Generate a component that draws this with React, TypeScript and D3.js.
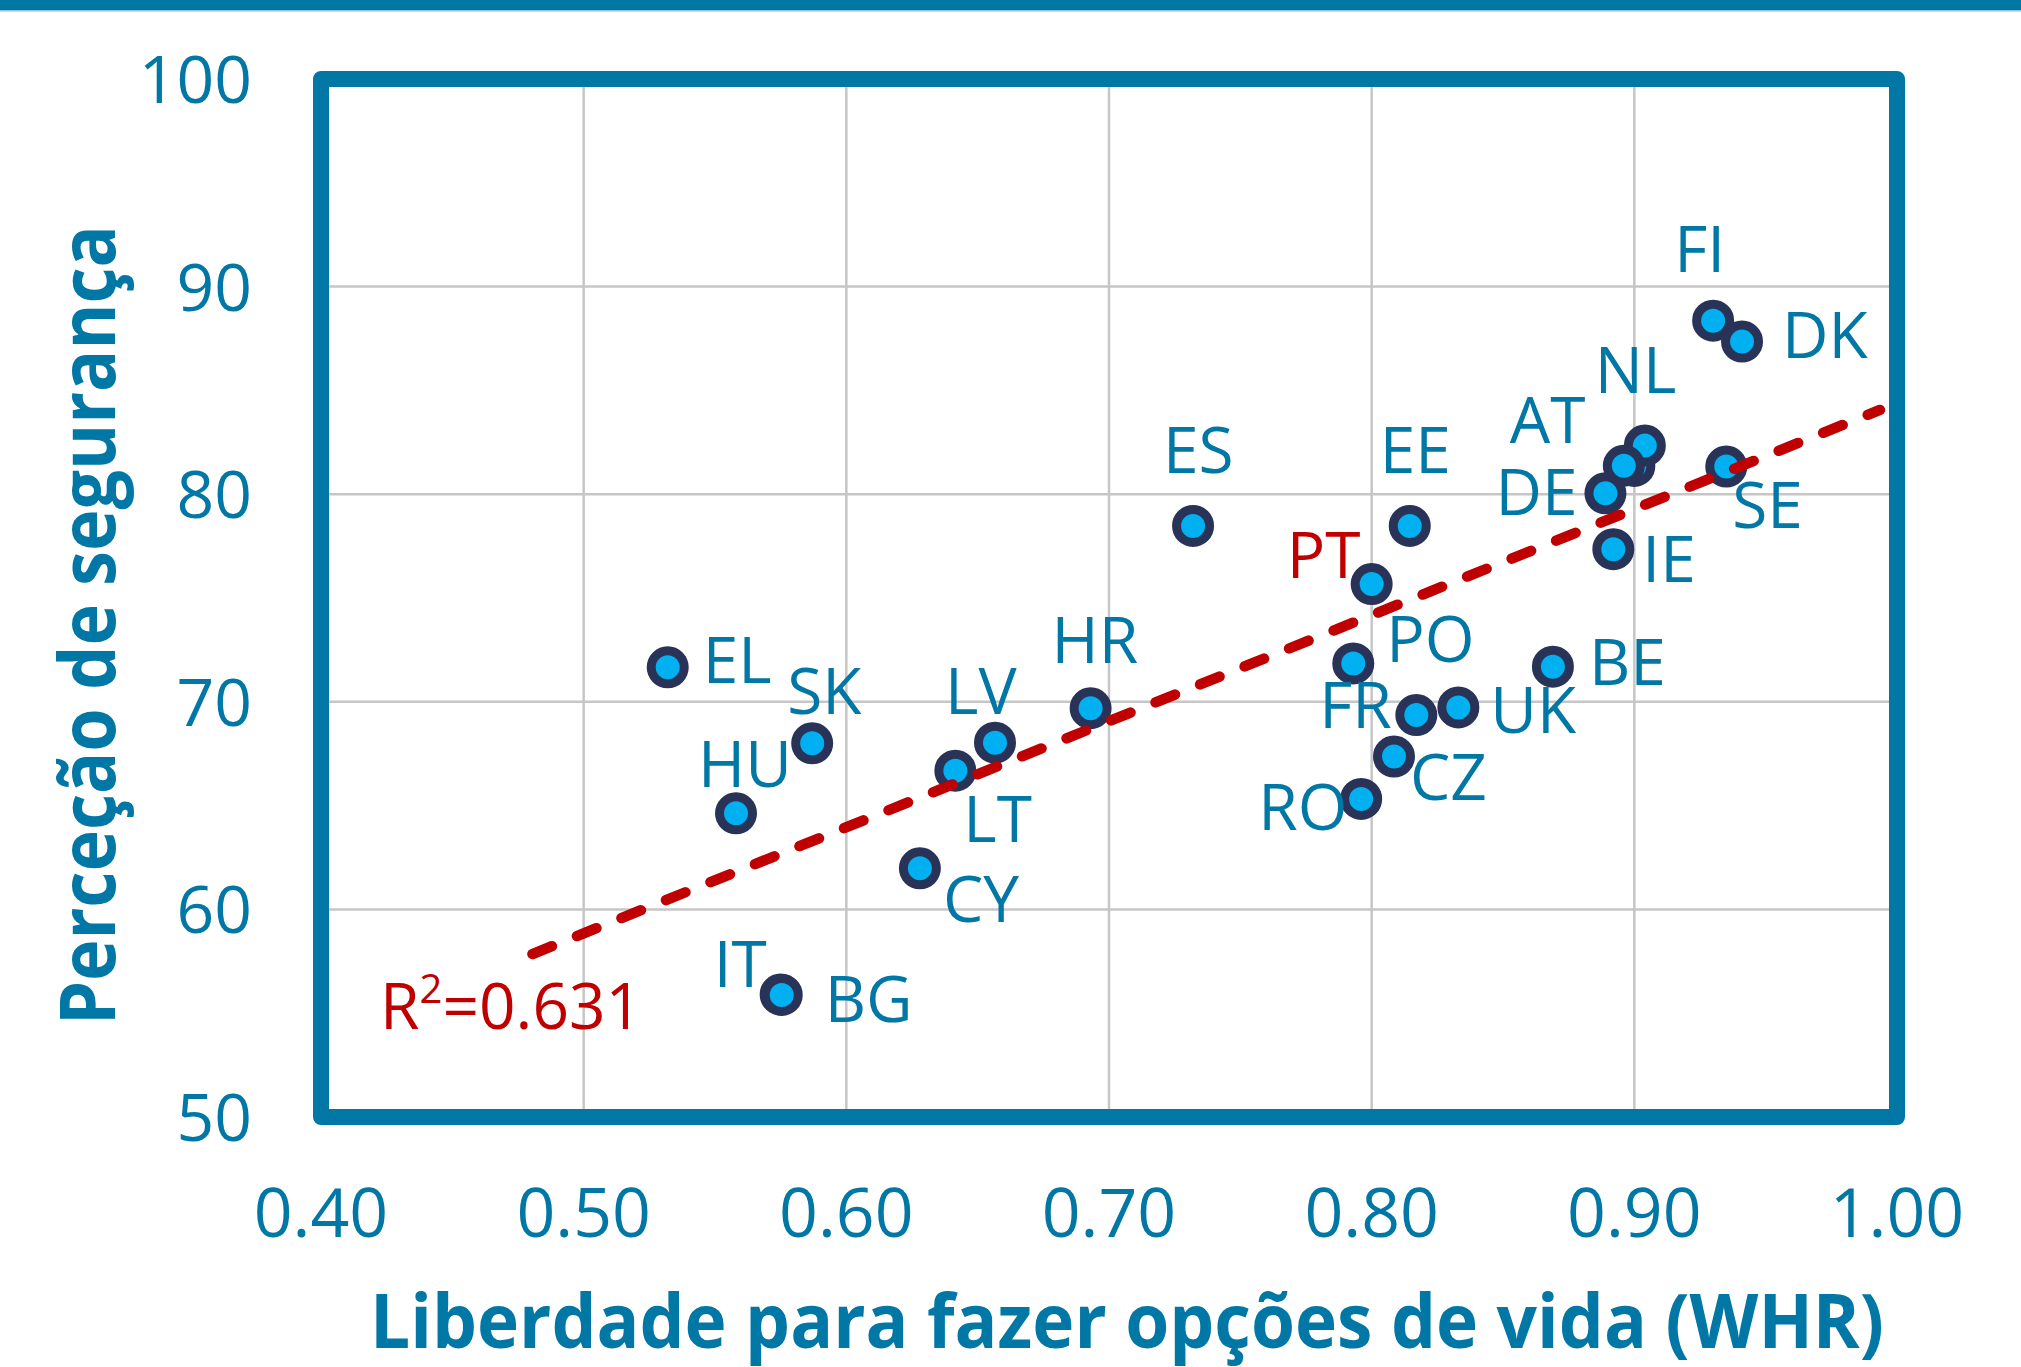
import * as d3 from "d3";

// country codes and values
const codes = ["LU", "FI", "DK", "NL", "AT", "DE", "SE", "IE", "ES", "EE", "PT", "PO", "FR", "UK", "BE", "CZ", "RO", "HR", "EL", "SK", "HU", "LV", "LT", "CY", "IT", "BG"];
const freedom = [0.900, 0.930, 0.941, 0.904, 0.896, 0.889, 0.935, 0.892, 0.732, 0.8145, 0.800, 0.793, 0.817, 0.833, 0.869, 0.8085, 0.796, 0.693, 0.532, 0.587, 0.558, 0.6566, 0.6415, 0.628, 0.5750, 0.5754];
const safety = [81.36, 88.36, 87.35, 82.34, 81.37, 80.04, 81.33, 77.35, 78.47, 78.47, 75.67, 71.85, 69.36, 69.73, 71.69, 67.36, 65.32, 69.69, 71.66, 68.0, 64.63, 68.03, 66.68, 61.98, 55.9, 55.88];

const xTicks = [0.4, 0.5, 0.6, 0.7, 0.8, 0.9, 1.0];
const yTicks = [50, 60, 70, 80, 90, 100];

const trendX = [0.4805, 0.9935];
const trendY = [57.85, 84.06];
const r2Label = "0.631";

// label placement relative to the marker (pixels)
const labelOffset: Record<string, [number, number]> = {
  FI: [-39, -49], DK: [40, 16], NL: [-50, -53], AT: [-114, -23], DE: [-110, 22],
  SE: [6, 61], IE: [29, 33], ES: [-30, -53], EE: [-30, -53], PT: [-85, -6],
  PO: [33, -1], FR: [-97, 13], UK: [32, 26], BE: [36, 18], CZ: [16, 43],
  RO: [-103, 31], HR: [-39, -45], EL: [35, 16], SK: [-25, -29], HU: [-38, -26],
  LV: [-50, -29], LT: [8, 71], CY: [23, 54], IT: [-67, -8], BG: [43, 27],
};

const W = 2021;
const H = 1367;
const teal = "#0077a4";
const red = "#c00000";
const font = "'Open Sans', sans-serif";

export default function App() {
  const x = d3.scaleLinear().domain([0.4, 1.0]).range([321, 1897]);
  const y = d3.scaleLinear().domain([50, 100]).range([1117, 79]);

  const pts = codes.map((c, i) => ({ c, px: x(freedom[i]), py: y(safety[i]) }));

  const trend = d3
    .line<number>()
    .x((d) => x(d))
    .y((_, i) => y(trendY[i]))(trendX);

  return (
    <div style={{ position: "absolute", left: 0, top: 0 }}>
      <svg width={W} height={H} style={{ display: "block", background: "#fff" }}>
        <rect x={0} y={0} width={W} height={10} fill={teal} />
        <rect x={0} y={10} width={W} height={1.5} fill="#8cc3d8" />

        {/* grid */}
        {xTicks.slice(1, -1).map((t) => (
          <line key={"gx" + t} x1={x(t)} x2={x(t)} y1={y(100)} y2={y(50)} stroke="#c6c6c6" strokeWidth={2.5} />
        ))}
        {yTicks.slice(1, -1).map((t) => (
          <line key={"gy" + t} x1={x(0.4)} x2={x(1.0)} y1={y(t)} y2={y(t)} stroke="#c6c6c6" strokeWidth={2.5} />
        ))}

        {/* markers */}
        {pts.map((p) => (
          <circle key={"m" + p.c} cx={p.px} cy={p.py} r={16.5} fill="#00b0f0" stroke="#283357" strokeWidth={9} />
        ))}

        <path d={trend ?? ""} fill="none" stroke={red} strokeWidth={10.5} strokeDasharray="21 27" strokeLinecap="round" />

        {/* labels */}
        {pts
          .filter((p) => labelOffset[p.c])
          .map((p) => (
            <text
              key={"l" + p.c}
              x={p.px + labelOffset[p.c][0]}
              y={p.py + labelOffset[p.c][1]}
              fontFamily={font}
              fontSize={64}
              fill={p.c === "PT" ? red : teal}
            >
              {p.c}
            </text>
          ))}

        <text x={380} y={1029} fontFamily={font} fontSize={64} fill={red}>
          R<tspan fontSize={40} dy={-26}>2</tspan>
          <tspan dy={26}>={r2Label}</tspan>
        </text>

        {/* frame */}
        <rect x={x(0.4)} y={y(100)} width={x(1.0) - x(0.4)} height={y(50) - y(100)} fill="none" stroke={teal} strokeWidth={16} strokeLinejoin="round" />

        {/* tick labels */}
        {xTicks.map((t) => (
          <text key={"xt" + t} x={x(t)} y={1237} textAnchor="middle" fontFamily={font} fontSize={68} fill={teal}>
            {d3.format(".2f")(t)}
          </text>
        ))}
        {yTicks.map((t) => (
          <text key={"yt" + t} x={252} y={y(t) + 24} textAnchor="end" fontFamily={font} fontSize={66} fill={teal}>
            {t}
          </text>
        ))}

        {/* axis titles */}
        <text x={370} y={1348} fontFamily={font} fontSize={75} fontWeight={700} fill={teal} textLength={1514} lengthAdjust="spacingAndGlyphs">
          Liberdade para fazer opções de vida (WHR)
        </text>
        <text
          transform={`translate(115,625) rotate(-90)`}
          textAnchor="middle"
          fontFamily={font}
          fontSize={77}
          fontWeight={700}
          fill={teal}
          textLength={800}
          lengthAdjust="spacingAndGlyphs"
        >
          Perceção de segurança
        </text>
      </svg>
    </div>
  );
}
